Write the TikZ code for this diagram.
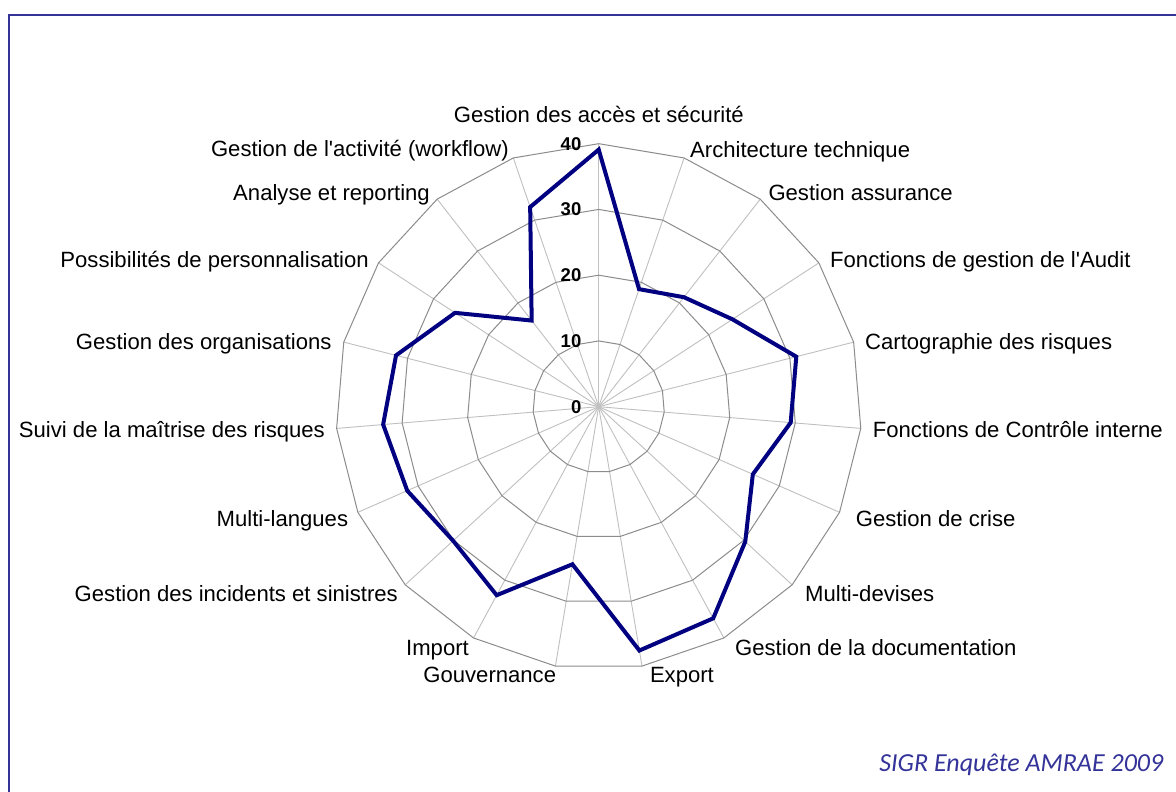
\documentclass[tikz,border=0pt]{standalone}
\usepackage{fontspec}
\setmainfont{Liberation Sans}
\newfontfamily\footfont{Carlito}
\usetikzlibrary{calc}
\definecolor{frameblue}{RGB}{51,51,153}
\definecolor{dataline}{RGB}{0,0,128}
\definecolor{ringgray}{RGB}{140,140,140}
\definecolor{spokegray}{RGB}{192,192,192}
\begin{document}
\begin{tikzpicture}[x=1pt,y=1pt,
  lbl/.style={font=\fontsize{22.1}{26}\selectfont, inner sep=0pt},
  val/.style={font=\fontsize{18.5}{21}\selectfont\bfseries, inner sep=0pt, anchor=east},
  ring/.style={draw=ringgray, line width=1pt, line join=miter},
  spoke/.style={draw=spokegray, line width=0.9pt},
  series/.style={draw=dataline, line width=4pt, line join=miter},
  framestyle/.style={draw=frameblue, line width=2.2pt}]
\useasboundingbox (0,0) rectangle (1176,792);
\fill[white] (0,0) rectangle (1176,792);
\coordinate (O) at (598.7,385.3);
\def\uu{6.575}
% spokes
\foreach \k in {0,...,18} {
  \coordinate (s\k) at ($(O)+({90-\k*360/19}:{40*\uu})$);
  \draw[spoke] (O) -- (s\k);
}
% rings
\foreach \v in {10,20,30,40} {
  \draw[ring] ($(O)+(90:{\v*\uu})$)
    \foreach \k in {1,...,18} { -- ($(O)+({90-\k*360/19}:{\v*\uu})$) } -- cycle;
}
% data points
\foreach \val [count=\i from 0] in {39.1,18.9,21.1,24.3,31.0,29.3,25.6,30.3,36.6,37.6,24.3,32.6,30.1,31.8,32.9,31.8,26.1,16.6,32.1} {
  \coordinate (p\i) at ($(O)+({90-\i*360/19}:{\val*\uu})$);
}
\draw[series] (p0) -- (p1) -- (p2) -- (p3) -- (p4) -- (p5) -- (p6) -- (p7) -- (p8) -- (p9)
  -- (p10) -- (p11) -- (p12) -- (p13) -- (p14) -- (p15) -- (p16) -- (p17) -- (p18) -- cycle;
% value labels
\node[val] (v0) at (581.5,385.3) {0};
\node[val] (v10) at (581.5,451.05) {10};
\node[val] (v20) at (581.5,516.8) {20};
\node[val] (v30) at (581.5,582.55) {30};
\node[val] (v40) at (581.5,648.3) {40};
% axis labels
\node[lbl, anchor=base] (acc) at (598.8,669.3) {Gestion des accès et sécurité};
\node[lbl, anchor=base west] (arch) at (690,634.7) {Architecture technique};
\node[lbl, anchor=base west] (assur) at (768.3,591.3) {Gestion assurance};
\node[lbl, anchor=base west] (audit) at (830,524.7) {Fonctions de gestion de l\textquotesingle Audit};
\node[lbl, anchor=base west] (carto) at (865,442) {Cartographie des risques};
\node[lbl, anchor=base west] (ctrl) at (872.7,354.7) {Fonctions de Contrôle interne};
\node[lbl, anchor=base west] (crise) at (855.6,265.7) {Gestion de crise};
\node[lbl, anchor=base west] (devises) at (805,190.7) {Multi-devises};
\node[lbl, anchor=base west] (doc) at (735,136.7) {Gestion de la documentation};
\node[lbl, anchor=base west] (export) at (649.8,109.7) {Export};
\node[lbl, anchor=base east] (gouv) at (556.3,109.7) {Gouvernance};
\node[lbl, anchor=base east] (import) at (469,136.7) {Import};
\node[lbl, anchor=base east] (incid) at (398,190.7) {Gestion des incidents et sinistres};
\node[lbl, anchor=base east] (langues) at (348.3,265.7) {Multi-langues};
\node[lbl, anchor=base east] (suivi) at (325,354.7) {Suivi de la maîtrise des risques};
\node[lbl, anchor=base east] (orga) at (331.7,442) {Gestion des organisations};
\node[lbl, anchor=base east] (perso) at (369,524.7) {Possibilités de personnalisation};
\node[lbl, anchor=base east] (analyse) at (430,591.3) {Analyse et reporting};
\node[lbl, anchor=base east] (workflow) at (509,635.3) {Gestion de l\textquotesingle activité (workflow)};
% frame
\draw[framestyle] (8.8,-3) -- (8.8,777) -- (1180,777);
% source
\node[anchor=base east, inner sep=0pt, text=frameblue,
  font={\footfont\itshape\fontsize{26}{30}\selectfont}] (src) at (1163.5,20.3) {SIGR Enquête AMRAE 2009};
\end{tikzpicture}
\end{document}
